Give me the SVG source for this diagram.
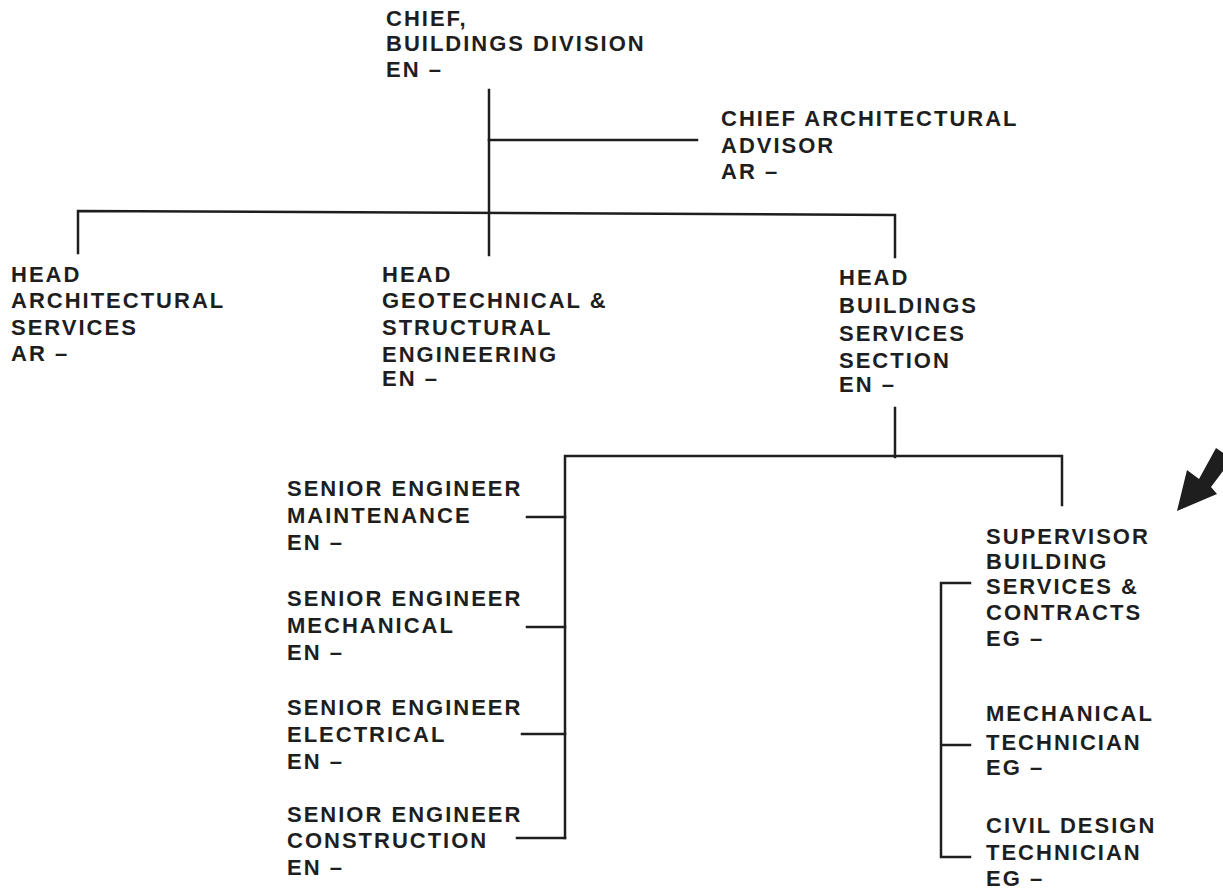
<svg xmlns="http://www.w3.org/2000/svg" width="1223" height="894" viewBox="0 0 1223 894">
<style>
text{font-family:"Liberation Sans",Arial,sans-serif;font-weight:bold;font-size:22px;letter-spacing:2px;fill:#1e1e1e}
.c{fill:none;stroke:#1e1e1e;stroke-width:2.5;stroke-linecap:square}
</style>
<rect width="1223" height="894" fill="#ffffff"/>
<g id="connectors" class="c">
<path d="M489 90V255"/>
<path d="M489 140H697"/>
<path d="M78 253V211L895 215V257"/>
<path d="M895 408V457"/>
<path d="M565 838V456H1062V505"/>
<path d="M527 517H565M527 627H565M522 734H565M517 838H565"/>
<path d="M970 583H941V857H970M941 745H970"/>
</g>
<g id="chief"><text x="386" y="26">CHIEF,</text><text x="386" y="51">BUILDINGS DIVISION</text><text x="386" y="77">EN –</text></g>
<g id="chief-arch"><text x="721" y="126">CHIEF ARCHITECTURAL</text><text x="721" y="153">ADVISOR</text><text x="721" y="179">AR –</text></g>
<g id="head-arch"><text x="11" y="282">HEAD</text><text x="11" y="308">ARCHITECTURAL</text><text x="11" y="335">SERVICES</text><text x="11" y="361">AR –</text></g>
<g id="head-geo"><text x="382" y="282">HEAD</text><text x="382" y="308">GEOTECHNICAL &amp;</text><text x="382" y="335">STRUCTURAL</text><text x="382" y="362">ENGINEERING</text><text x="382" y="386">EN –</text></g>
<g id="head-bldg"><text x="839" y="285">HEAD</text><text x="839" y="313">BUILDINGS</text><text x="839" y="341">SERVICES</text><text x="839" y="368">SECTION</text><text x="839" y="392">EN –</text></g>
<g id="se-maint"><text x="287" y="496">SENIOR ENGINEER</text><text x="287" y="523">MAINTENANCE</text><text x="287" y="550">EN –</text></g>
<g id="se-mech"><text x="287" y="606">SENIOR ENGINEER</text><text x="287" y="633">MECHANICAL</text><text x="287" y="660">EN –</text></g>
<g id="se-elec"><text x="287" y="715">SENIOR ENGINEER</text><text x="287" y="742">ELECTRICAL</text><text x="287" y="769">EN –</text></g>
<g id="se-constr"><text x="287" y="822">SENIOR ENGINEER</text><text x="287" y="848">CONSTRUCTION</text><text x="287" y="875">EN –</text></g>
<g id="supervisor"><text x="986" y="544">SUPERVISOR</text><text x="986" y="569">BUILDING</text><text x="986" y="594">SERVICES &amp;</text><text x="986" y="620">CONTRACTS</text><text x="986" y="646">EG –</text></g>
<g id="mech-tech"><text x="986" y="721">MECHANICAL</text><text x="986" y="750">TECHNICIAN</text><text x="986" y="775">EG –</text></g>
<g id="civil-tech"><text x="986" y="833">CIVIL DESIGN</text><text x="986" y="860">TECHNICIAN</text><text x="986" y="886">EG –</text></g>
<polygon id="pointer" points="1177,511 1187,470 1199,479 1216,448 1232,459 1211,487 1217,494" fill="#1e1e1e"/>
</svg>
